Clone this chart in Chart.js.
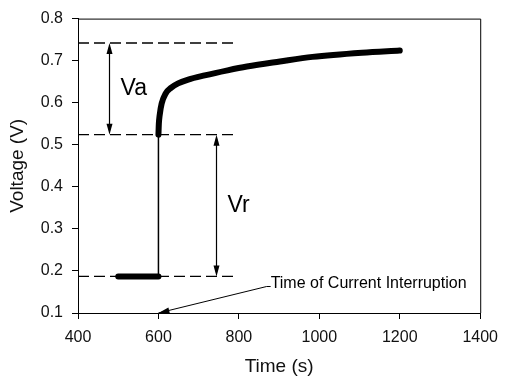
<!DOCTYPE html>
<html>
<head>
<meta charset="utf-8">
<script src="https://cdn.jsdelivr.net/npm/chart.js@4.4.1/dist/chart.umd.min.js"></script>
<style>
  html, body { margin: 0; padding: 0; background: #fff; }
  #wrap { width: 507px; height: 380px; }
</style>
</head>
<body>
<div id="wrap"><canvas id="chart"></canvas></div>
<script>
// voltage before interruption (s, V)
const baseTime = [500, 600];
const baseVolt = [0.187, 0.187];

// jump at the interruption
const stepTime = [600, 600];
const stepVolt = [0.187, 0.524];

// relaxation after interruption
const recTime = [600, 601, 603, 608, 618, 632, 649, 674, 715, 772, 820, 902, 983, 1106, 1200];
const recVolt = [0.524, 0.55, 0.57, 0.598, 0.622, 0.636, 0.646, 0.655, 0.665, 0.677, 0.686, 0.698, 0.709, 0.719, 0.724];

// dashed reference levels
const levelVolt = [0.742, 0.524, 0.187];
const levelFrom = 400;
const levelTo = 790;

// double arrows: [time, from V, to V, label]
const vaArrow = [476, 0.742, 0.524, "Va"];
const vrArrow = [742, 0.524, 0.187, "Vr"];

// callout for the interruption
const calloutText = "Time of Current Interruption";
const calloutStart = [869, 0.163];
const calloutEnd = [600, 0.1];

const xTicks = [400, 600, 800, 1000, 1200, 1400];
const yTicks = [0.1, 0.2, 0.3, 0.4, 0.5, 0.6, 0.7, 0.8];

Chart.defaults.font.family = "'Liberation Sans', Arial, sans-serif";
Chart.defaults.color = "#111";

function pts(xs, ys) {
    return xs.map((t, i) => ({ x: t, y: ys[i] }));
}

function arrowHead(ctx, x0, y0, x1, y1) {
    const a = Math.atan2(y1 - y0, x1 - x0);
    const len = 11, half = 3;
    ctx.beginPath();
    ctx.moveTo(x1, y1);
    ctx.lineTo(x1 - len * Math.cos(a) + half * Math.sin(a), y1 - len * Math.sin(a) - half * Math.cos(a));
    ctx.lineTo(x1 - len * Math.cos(a) - half * Math.sin(a), y1 - len * Math.sin(a) + half * Math.cos(a));
    ctx.closePath();
    ctx.fill();
}

const annotations = {
    id: "annotations",
    afterDatasetsDraw(chart) {
        const { ctx, chartArea, scales: { x, y } } = chart;
        ctx.save();
        ctx.strokeStyle = "#000";
        ctx.fillStyle = "#000";
        ctx.lineWidth = 1;

        // top and right edges of the frame
        ctx.beginPath();
        ctx.moveTo(chartArea.left, chartArea.top + 0.5);
        ctx.lineTo(chartArea.right + 0.5, chartArea.top + 0.5);
        ctx.lineTo(chartArea.right + 0.5, chartArea.bottom);
        ctx.stroke();

        // Va / Vr arrows
        ctx.font = "23px 'Liberation Sans', Arial, sans-serif";
        ctx.textBaseline = "alphabetic";
        [vaArrow, vrArrow].forEach(([t, v0, v1, label]) => {
            const px = Math.round(x.getPixelForValue(t)) + 0.5;
            const p0 = y.getPixelForValue(v0), p1 = y.getPixelForValue(v1);
            ctx.lineWidth = 1.2;
            ctx.beginPath();
            ctx.moveTo(px, p0 + 4);
            ctx.lineTo(px, p1 - 4);
            ctx.stroke();
            arrowHead(ctx, px, (p0 + p1) / 2, px, p0);
            arrowHead(ctx, px, (p0 + p1) / 2, px, p1);
            ctx.fillText(label, px + 11, (p0 + p1) / 2 + 6);
        });

        // callout
        const sx = x.getPixelForValue(calloutStart[0]), sy = y.getPixelForValue(calloutStart[1]);
        const ex = x.getPixelForValue(calloutEnd[0]), ey = y.getPixelForValue(calloutEnd[1]);
        ctx.lineWidth = 1;
        ctx.beginPath();
        ctx.moveTo(sx + 4, sy);
        ctx.lineTo(sx, sy);
        ctx.lineTo(ex, ey);
        ctx.stroke();
        arrowHead(ctx, sx, sy, ex, ey);
        ctx.font = "16px 'Liberation Sans', Arial, sans-serif";
        ctx.fillText(calloutText, sx + 4, sy + 1);
        ctx.restore();
    }
};

const datasets = [];
levelVolt.forEach(v => {
    datasets.push({
        data: pts([levelFrom, levelTo], [v, v]),
        borderColor: "#000",
        borderWidth: 1.3,
        borderDash: [11, 5],
        pointRadius: 0
    });
});
datasets.push({
    data: pts(stepTime, stepVolt),
    borderColor: "#000",
    borderWidth: 1.5,
    pointRadius: 0
});
datasets.push({
    data: pts(baseTime, baseVolt),
    borderColor: "#000",
    borderWidth: 6,
    borderCapStyle: "round",
    pointRadius: 0
});
datasets.push({
    data: pts(recTime, recVolt),
    borderColor: "#000",
    borderWidth: 6,
    borderCapStyle: "round",
    borderJoinStyle: "round",
    cubicInterpolationMode: "monotone",
    pointRadius: 0
});

new Chart(document.getElementById("chart"), {
    type: "scatter",
    data: { datasets: datasets.map(d => ({ ...d, showLine: true })) },
    options: {
        responsive: true,
        maintainAspectRatio: false,
        animation: false,
        layout: { padding: { top: 18, right: 20, left: 0, bottom: 0 } },
        plugins: { legend: { display: false }, tooltip: { enabled: false } },
        scales: {
            x: {
                type: "linear",
                min: 400,
                max: 1400,
                afterBuildTicks: s => { s.ticks = xTicks.map(v => ({ value: v })); },
                ticks: { font: { size: 16 }, padding: 9, maxRotation: 0, callback: v => String(v) },
                grid: { drawOnChartArea: false, color: "#000", tickLength: 6 },
                border: { color: "#000", width: 1 },
                title: { display: true, text: "Time (s)", font: { size: 19 }, color: "#111", padding: { top: 2, bottom: 2 } },
                afterFit: s => { s.height = 67; }
            },
            y: {
                min: 0.1,
                max: 0.8,
                afterBuildTicks: s => { s.ticks = yTicks.map(v => ({ value: v })); },
                ticks: { font: { size: 16 }, padding: 9, callback: v => v.toFixed(1) },
                grid: { drawOnChartArea: false, color: "#000", tickLength: 6 },
                border: { color: "#000", width: 1 },
                title: { display: true, text: "Voltage (V)", font: { size: 19 }, color: "#111", padding: { top: 6, bottom: 4 } },
                afterFit: s => { s.width = 78; }
            }
        }
    },
    plugins: [annotations]
});
</script>
</body>
</html>
